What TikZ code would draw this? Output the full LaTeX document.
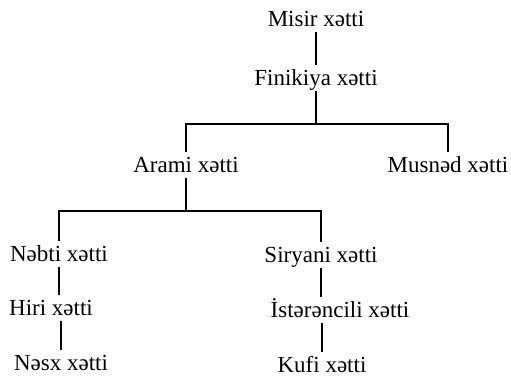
\documentclass[tikz,border=0pt]{standalone}
\usepackage{fontspec}
\setmainfont{Liberation Serif}
\begin{document}
\begin{tikzpicture}[x=1pt,y=1pt,
		script/.style={anchor=base,inner xsep=0pt,inner ysep=6pt,text height=14pt,text depth=0pt,font=\fontsize{23}{27}\selectfont},
		link/.style={line width=2.8pt}]
			\useasboundingbox (0,0) rectangle (511,376);
			% bar heights
			\def\baroney{252}
			\def\bartwoy{165}

			\node[script] (misir) at (316,350) {Misir xətti};
			\node[script] (finikiya) at (316,291) {Finikiya xətti};
			\node[script] (arami) at (186,204) {Arami xətti};
			\node[script] (musned) at (448,204) {Musnəd xətti};
			\node[script] (nebti) at (59,115) {Nəbti xətti};
			\node[script] (siryani) at (321,114) {Siryani xətti};
			\node[script] (hiri) at (51,61) {Hiri xətti};
			\node[script] (isteren) at (340,59) {İstərəncili xətti};
			\node[script] (nesx) at (61,6) {Nəsx xətti};
			\node[script] (kufi) at (322,4) {Kufi xətti};

			\coordinate (barone) at (316,\baroney);
			\coordinate (bartwo) at (186,\bartwoy);

			\draw[link] (misir.south) -- (finikiya.north);
			\draw[link] (finikiya.south) -- (barone);
			\draw[link] (arami.north) |- (barone) -| (musned.north);
			\draw[link] (arami.south) -- (bartwo);
			\draw[link] (nebti.north) |- (bartwo) -| (siryani.north);
			% left column
			\draw[link] (nebti.south) -- (nebti.south |- hiri.north);
			\draw[link] (nesx.north |- hiri.south) -- (nesx.north);
			% right column
			\draw[link] (siryani.south) -- (siryani.south |- isteren.north);
			\draw[link] (kufi.north |- isteren.south) -- (kufi.north);
		\end{tikzpicture}
\end{document}
